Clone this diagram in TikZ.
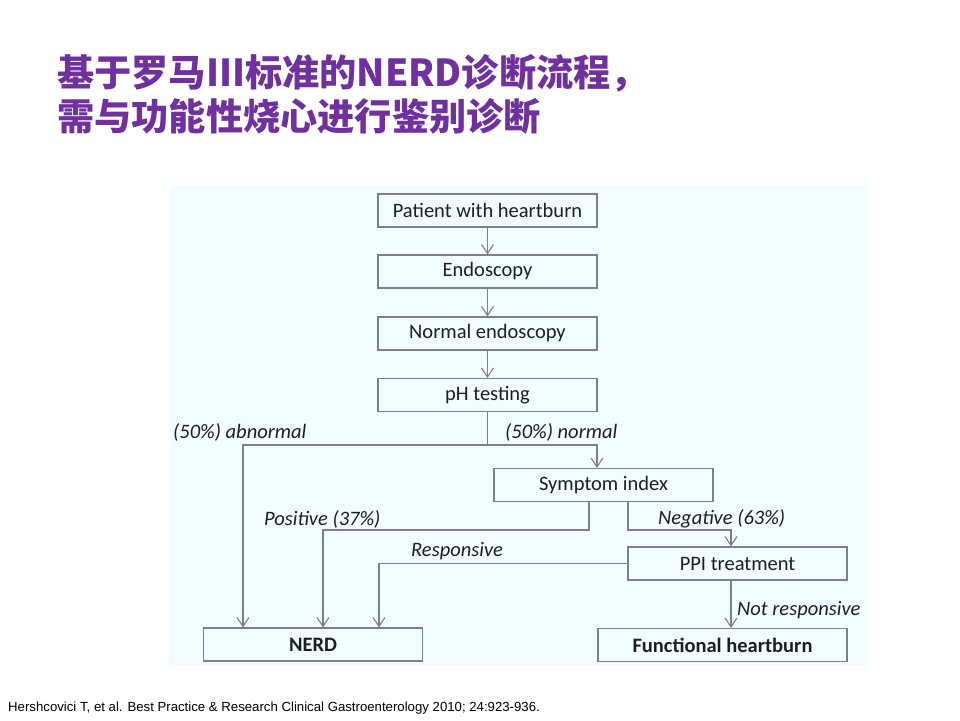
\documentclass[tikz,border=0pt]{standalone}
\usepackage{fontspec}
\setmainfont{Carlito}
\newfontfamily\cjk{Noto Sans CJK SC}
\newfontfamily\reffont{Liberation Sans}
\usetikzlibrary{arrows.meta}
\definecolor{panel}{RGB}{240,252,254}
\definecolor{titlepurple}{RGB}{112,48,160}
\definecolor{linegray}{RGB}{128,128,128}
\definecolor{textdark}{RGB}{30,30,30}

\begin{document}
\begin{tikzpicture}[x=1pt,y=-1pt,
  box/.style={draw=linegray,line width=1.1pt,minimum width=219pt,minimum height=33pt,inner sep=0pt,text=textdark,font=\fontsize{20.5}{23}\selectfont},
  lbl/.style={anchor=base west,inner sep=0pt,text=textdark,font=\fontsize{20.5}{23}\selectfont\itshape},
  flow/.style={draw=linegray,line width=1.1pt},
  >={Straight Barb[length=9pt,width=12pt]}]
\useasboundingbox (0,0) rectangle (960,720);
\fill[panel] (170,185) rectangle (868,665);

% title
\node[anchor=base west,inner sep=0pt,text=titlepurple,font=\cjk\bfseries\fontsize{37.2}{40}\selectfont] (title1) at (57,86) {基于罗马III标准的NERD诊断流程，};
\node[anchor=base west,inner sep=0pt,text=titlepurple,font=\cjk\bfseries\fontsize{37.2}{40}\selectfont] (title2) at (57,130) {需与功能性烧心进行鉴别诊断};

% boxes
\node[box] (patient) at (487.5,210.5) {Patient with heartburn};
\node[box] (endo) at (487.5,271.5) {Endoscopy};
\node[box] (normal) at (487.5,333.5) {Normal endoscopy};
\node[box] (ph) at (487.5,395) {pH testing};
\node[box] (symptom) at (603.5,485) {Symptom index};
\node[box] (ppi) at (737.5,563.5) {PPI treatment};
\node[box,font=\fontsize{20.5}{23}\selectfont\bfseries] (nerd) at (313,644.5) {NERD};
\node[box,minimum width=249pt,font=\fontsize{20.5}{23}\selectfont\bfseries] (func) at (722.5,645) {Functional heartburn};

% turning points
\coordinate (split) at (487.5,445);
\coordinate (posturn) at (589,530);
\coordinate (negturn) at (628,530);

% connectors
\draw [flow,->] (patient) -- (endo);
\draw [flow,->] (endo) -- (normal);
\draw [flow,->] (normal) -- (ph);
\draw [flow] (ph) -- (split);
\draw [flow,->] (split) -| ([xshift=-70pt]nerd.north);
\draw [flow,->] (split) -| ([xshift=-6.5pt]symptom.north);
\draw [flow,->] (symptom.south -| posturn) -- (posturn) -| ([xshift=10pt]nerd.north);
\draw [flow,->] (symptom.south -| negturn) -- (negturn) -| ([xshift=-6.5pt]ppi.north);
\draw [flow,->] (ppi.west) -| ([xshift=66pt]nerd.north);
\draw [flow,->] ([xshift=-6.5pt]ppi.south) -- ([xshift=8.5pt]func.north);

% labels
\node[lbl] (abn) at (173,438) {(50\%) abnormal};
\node[lbl] (nor) at (505,438) {(50\%) normal};
\node[lbl] (pos) at (264,525) {Positive (37\%)};
\node[lbl] (resp) at (411,556) {Responsive};
\node[lbl] (neg) at (658,524) {Negative (63\%)};
\node[lbl] (notresp) at (737,615) {Not responsive};

% reference
\node[anchor=base west,inner sep=0pt,font=\reffont\fontsize{13.2}{15}\selectfont] (ref) at (8,711) {Hershcovici T, et al. Best Practice \& Research Clinical Gastroenterology 2010; 24:923-936.};
\end{tikzpicture}
\end{document}
